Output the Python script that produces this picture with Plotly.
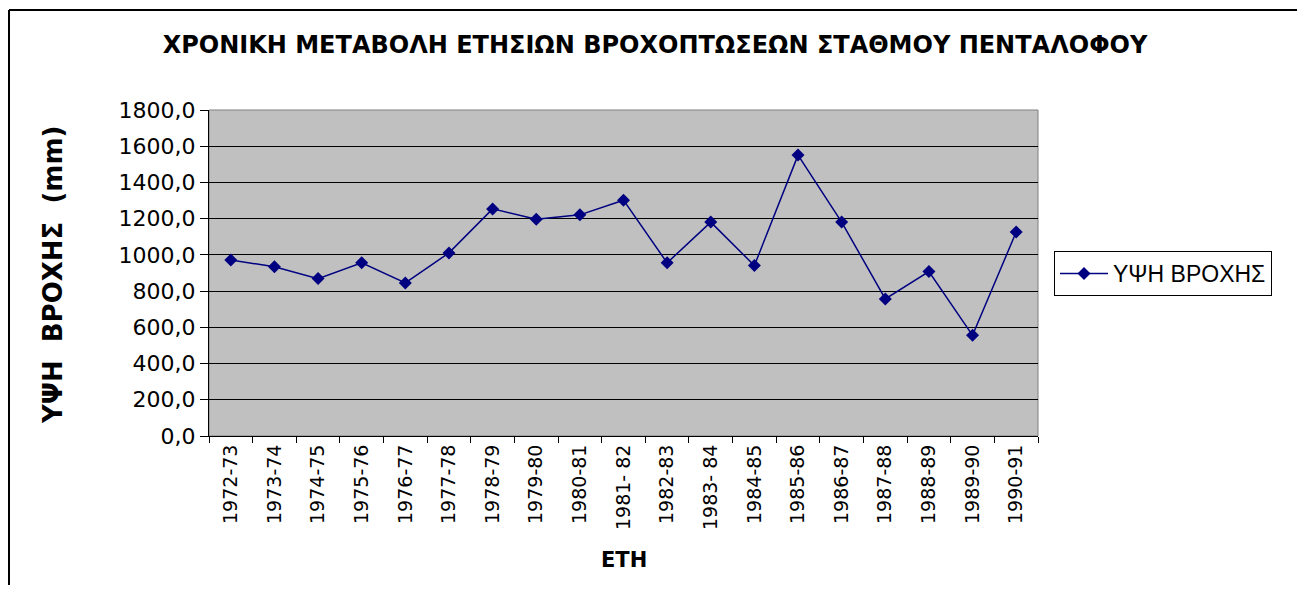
import plotly.graph_objects as go

years = ["1972-73", "1973-74", "1974-75", "1975-76", "1976-77", "1977-78", "1978-79",
         "1979-80", "1980-81", "1981- 82", "1982-83", "1983- 84", "1984-85", "1985-86",
         "1986-87", "1987-88", "1988-89", "1989-90", "1990-91"]
rain_mm = [972, 934, 869, 956, 845, 1011, 1254, 1197, 1221, 1302, 956, 1181, 941, 1551,
           1181, 757, 908, 556, 1126]
y_ticks = [0, 200, 400, 600, 800, 1000, 1200, 1400, 1600, 1800]

OFF = 8  # browser body margin
W, H = 1305 - 2 * OFF, 593 - 2 * OFF
L, R, T, B = 209 - OFF, 1038 - OFF, 110 - OFF, 436 - OFF
pw, ph = R - L, B - T

FONT = "DejaVu Sans, Arial, sans-serif"

fig = go.Figure()
fig.add_trace(go.Scatter(
    x=years, y=rain_mm, name="ΥΨΗ ΒΡΟΧΗΣ", mode="lines+markers",
    line=dict(color="#000080", width=1.5),
    marker=dict(symbol="diamond", size=10, color="#000080"),
))

def px(x):
    return (x - OFF - L) / pw

def py(y):
    return (B - (y - OFF)) / ph

fig.update_layout(
    width=W, height=H,
    margin=dict(l=L, r=W - R, t=T, b=H - B, pad=0),
    paper_bgcolor="white",
    plot_bgcolor="#C0C0C0",
    separators=",.",
    font=dict(family=FONT, color="black"),
    title=dict(text="<b>ΧΡΟΝΙΚΗ ΜΕΤΑΒΟΛΗ ΕΤΗΣΙΩΝ ΒΡΟΧΟΠΤΩΣΕΩΝ ΣΤΑΘΜΟΥ ΠΕΝΤΑΛΟΦΟΥ</b>",
               x=(655 - OFF) / W, xanchor="center", y=1 - (45 - OFF) / H, yanchor="middle",
               font=dict(size=24, color="black", family=FONT)),
    showlegend=True,
    legend=dict(x=px(1054), xanchor="left", y=py(251), yanchor="top",
                bordercolor="black", borderwidth=1, bgcolor="white",
                font=dict(size=23, color="black", family="Arial, Liberation Sans, sans-serif"),
                itemwidth=48, tracegroupgap=0),
    xaxis=dict(
        type="category", showgrid=False, tickangle=-90,
        tickson="boundaries", ticks="outside", ticklen=6, tickcolor="black",
        showline=True, linecolor="black", linewidth=1, mirror=False,
        tickfont=dict(size=19, color="black", family=FONT),
        range=[-0.5, len(years) - 0.5],
    ),
    yaxis=dict(
        range=[0, 1800], tickvals=y_ticks, tickformat=".1f",
        showgrid=True, gridcolor="black", gridwidth=1,
        ticks="outside", ticklen=8, tickcolor="black",
        showline=True, linecolor="black", linewidth=1,
        tickfont=dict(size=22, color="black", family=FONT),
        zeroline=False,
    ),
    annotations=[
        dict(text="<b>ΕΤΗ</b>", xref="paper", yref="paper", x=px(624), y=py(560),
             xanchor="center", yanchor="middle", showarrow=False,
             font=dict(size=21, color="black", family=FONT)),
        dict(text="<b>ΥΨΗ  ΒΡΟΧΗΣ  (mm)</b>", xref="paper", yref="paper", x=px(53), y=py(275),
             xanchor="center", yanchor="middle", showarrow=False, textangle=-90,
             font=dict(size=26, color="black", family=FONT)),
    ],
)

# plot-area grey frame (top/right)
fig.add_shape(type="rect", xref="paper", yref="paper", x0=0, y0=0, x1=1, y1=1,
              line=dict(color="#808080", width=1), layer="below")
# outer chart border: only left and top edges are visible in the reference
fig.add_shape(type="line", xref="paper", yref="paper",
              x0=px(OFF + 1), y0=py(10), x1=px(OFF + 1), y1=py(OFF + H),
              line=dict(color="black", width=2))
fig.add_shape(type="line", xref="paper", yref="paper",
              x0=px(OFF + 1), y0=py(10), x1=px(OFF + W), y1=py(10),
              line=dict(color="black", width=2))

fig.write_html("out.html")
